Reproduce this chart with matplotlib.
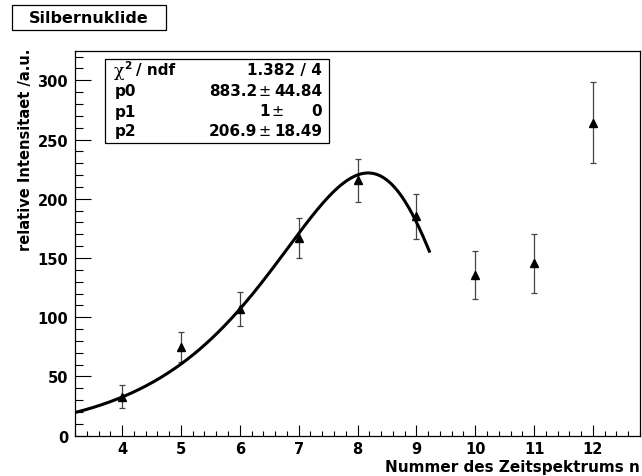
import matplotlib
matplotlib.use("Agg")
import matplotlib.pyplot as plt
from matplotlib.ticker import MultipleLocator
import numpy as np

# Messwerte: Nummer des Zeitspektrums, relative Intensitaet und Fehler
spektrum_nr = [4, 5, 6, 7, 8, 9, 10, 11, 12]
intensitaet = [32.8, 74.7, 106.7, 166.8, 215.6, 185.2, 135.8, 145.4, 264.2]
fehler = [9.6, 12.7, 14.5, 17.0, 18.0, 19.0, 20.3, 24.9, 34.0]

# Fitkurve (Form mit Maximum bei x_peak) und Fitbereich
f_peak = 221.8
x_peak = 8.18
rise = 0.66
bend = 0.75
fit_min, fit_max = 3.2, 9.23

# Ergebnisse der Anpassung fuer die Statistik-Box
chi2_text = "1.382 / 4"
par_names = ["p0", "p1", "p2"]
par_values = ["883.2", "1", "206.9"]
par_errors = ["44.84", "0", "18.49"]

W, H = 642, 477
FONT = "DejaVu Sans"


def fx(px):
    return px / W


def fy(py):
    return 1 - py / H


def fit_curve(x):
    u = x - x_peak
    return f_peak * np.exp(rise * u - rise / bend * (np.exp(bend * u) - 1))


plt.rcParams['font.family'] = FONT
plt.rcParams['font.weight'] = 'bold'

fig = plt.figure(figsize=(W / 100, H / 100), dpi=100)
ax = fig.add_axes([fx(75), fy(436.7), (640 - 75) / W, (436.7 - 52.3) / H])

ax.errorbar(spektrum_nr, intensitaet, yerr=fehler, fmt='none', ecolor='#444444',
            elinewidth=0.9, capsize=2.3, capthick=0.9, zorder=2)
ax.plot(spektrum_nr, intensitaet, linestyle='none', marker='^', color='black',
        markersize=5.5, zorder=4)

xs = np.linspace(fit_min, fit_max, 300)
ax.plot(xs, fit_curve(xs), color='black', linewidth=2.2, zorder=3,
        solid_capstyle='butt')

ax.set_xlim(3.2, 12.8)
ax.set_ylim(0, 324.5)

ax.xaxis.set_major_locator(MultipleLocator(1))
ax.xaxis.set_minor_locator(MultipleLocator(0.2))
ax.yaxis.set_major_locator(MultipleLocator(50))
ax.yaxis.set_minor_locator(MultipleLocator(10))

ax.tick_params(axis='x', which='major', direction='in', length=7.7, width=0.8,
               labelsize=10.5, pad=4)
ax.tick_params(axis='x', which='minor', direction='in', length=3.8, width=0.8)
ax.tick_params(axis='y', which='major', direction='in', length=11.3, width=0.8,
               labelsize=10.5, pad=5)
ax.tick_params(axis='y', which='minor', direction='in', length=5.8, width=0.8)
for lab in ax.get_xticklabels() + ax.get_yticklabels():
    lab.set_fontweight('bold')
for sp in ax.spines.values():
    sp.set_linewidth(0.9)
    sp.set_color('black')

fig.text(fx(640), fy(472), "Nummer des Zeitspektrums n", ha='right',
         va='baseline', fontsize=11, fontweight='bold')
fig.text(fx(26), fy(49), "relative Intensitaet /a.u.", rotation=90,
         ha='center', va='top', fontsize=10.5, fontweight='bold')

# Titelbox
fig.patches.append(plt.Rectangle((fx(11.7), fy(31)), (165.7 - 11.7) / W, (31 - 5.7) / H,
                                 transform=fig.transFigure, facecolor='white',
                                 edgecolor='black', linewidth=0.9))
fig.text(fx(88.7), fy(18.5), "Silbernuklide", ha='center', va='center',
         fontsize=11.5, fontweight='bold')

# Statistik-Box
fig.patches.append(plt.Rectangle((fx(105), fy(144)), (329 - 105) / W, (144 - 60) / H,
                                 transform=fig.transFigure, facecolor='white',
                                 edgecolor='black', linewidth=0.9, zorder=5))
rows_y = [71, 91.5, 112, 132]
fig.text(fx(114), fy(rows_y[0] + 5), "\u03c7", ha='left', va='baseline',
         fontsize=12.5, family='DejaVu Serif', fontweight='normal', zorder=6)
fig.text(fx(124), fy(rows_y[0] - 2), "2", ha='left', va='baseline',
         fontsize=7.5, fontweight='bold', zorder=6)
fig.text(fx(136), fy(rows_y[0]), "/ ndf", ha='left', va='center',
         fontsize=11, fontweight='bold', zorder=6)
fig.text(fx(322), fy(rows_y[0]), chi2_text, ha='right', va='center',
         fontsize=11, fontweight='bold', zorder=6)
for i, name in enumerate(par_names):
    y = fy(rows_y[i + 1])
    fig.text(fx(115), y, name, ha='left', va='center', fontsize=11,
             fontweight='bold', zorder=6)
    if par_errors[i] == "0":
        val_right, pm_x = 270, 278
    else:
        val_right, pm_x = 257, 265
    fig.text(fx(val_right), y, par_values[i], ha='right', va='center',
             fontsize=11, fontweight='bold', zorder=6)
    fig.text(fx(pm_x), y, "\u00b1", ha='center', va='center', fontsize=10.5,
             fontweight='normal', zorder=6)
    fig.text(fx(322), y, par_errors[i], ha='right', va='center',
             fontsize=11, fontweight='bold', zorder=6)

fig.savefig("out.png", dpi=100)
